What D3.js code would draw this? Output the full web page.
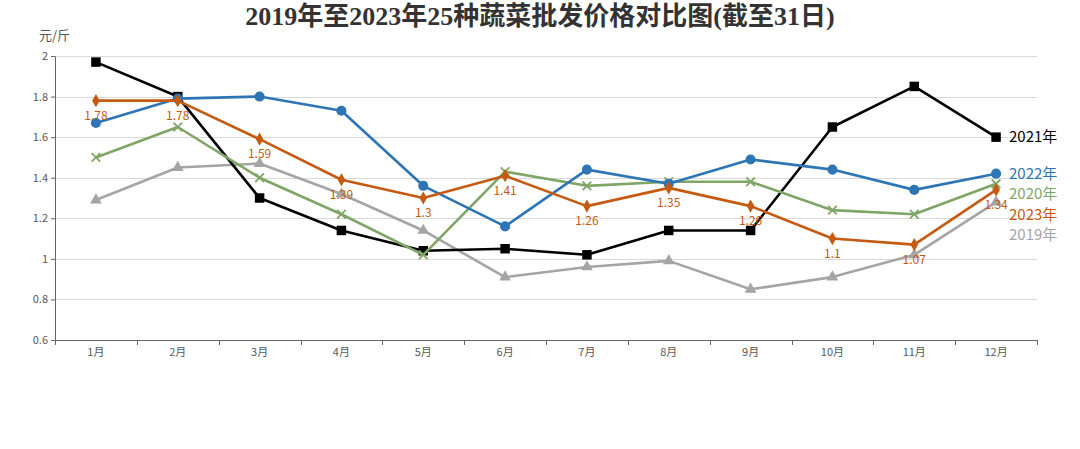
<!DOCTYPE html>
<html>
<head>
<meta charset="utf-8">
<script src="https://cdn.jsdelivr.net/npm/d3@7"></script>
<style>
    body { margin: 0; background: #fff; }
    svg { display: block; font-family: "Noto Sans CJK SC", "Noto Sans", sans-serif; }
</style>
</head>
<body>
<div class="svg-wrapper"></div>
<script>
const months = ["1月", "2月", "3月", "4月", "5月", "6月", "7月", "8月", "9月", "10月", "11月", "12月"]
const yTicks = [0.6, 0.8, 1, 1.2, 1.4, 1.6, 1.8, 2]

const y2019 = [1.29, 1.45, 1.47, 1.32, 1.14, 0.91, 0.96, 0.99, 0.85, 0.91, 1.02, 1.28]
const y2020 = [1.50, 1.65, 1.40, 1.22, 1.02, 1.43, 1.36, 1.38, 1.38, 1.24, 1.22, 1.37]
const y2021 = [1.97, 1.80, 1.30, 1.14, 1.04, 1.05, 1.02, 1.14, 1.14, 1.65, 1.85, 1.60]
const y2022 = [1.67, 1.79, 1.80, 1.73, 1.36, 1.16, 1.44, 1.37, 1.49, 1.44, 1.34, 1.42]
const y2023 = [1.78, 1.78, 1.59, 1.39, 1.30, 1.41, 1.26, 1.35, 1.26, 1.10, 1.07, 1.34]

// draw order: later ones on top
const series = [
    {name: "2019年", values: y2019, color: "#a5a5a5", symbol: d3.symbolTriangle, size: 60},
    {name: "2021年", values: y2021, color: "#000000", symbol: d3.symbolSquare, size: 90},
    {name: "2020年", values: y2020, color: "#7fa667", symbol: d3.symbolX, size: 50, stroke: true},
    {name: "2022年", values: y2022, color: "#2e75b6", symbol: d3.symbolCircle, size: 80},
    {name: "2023年", values: y2023, color: "#c55a11", symbol: d3.symbolDiamond, size: 50, labels: true}
]
const legendOrder = ["2021年", "2022年", "2020年", "2023年", "2019年"]

const width = 1080, height = 449
const margin = {top: 56, right: 43, bottom: 109, left: 55}

const svg = d3.select(".svg-wrapper").append("svg")
    .attr("width", width)
    .attr("height", height)

const x = d3.scaleBand().domain(months).range([margin.left, width - margin.right])
const y = d3.scaleLinear().domain([0.6, 2]).range([height - margin.bottom, margin.top])

// title
svg.append("text")
    .attr("x", 540)
    .attr("y", 25)
    .attr("text-anchor", "middle")
    .style("font-family", '"Liberation Serif", "Noto Sans CJK SC", serif')
    .style("font-weight", "bold")
    .style("font-size", "26px")
    .attr("fill", "#333")
    .text("2019年至2023年25种蔬菜批发价格对比图(截至31日)")

svg.append("text")
    .attr("x", 39)
    .attr("y", 40)
    .style("font-size", "13px")
    .attr("fill", "#555")
    .text("元/斤")

// gridlines
svg.append("g").selectAll("line")
    .data(yTicks.filter(d => d > 0.6))
    .enter()
    .append("line")
    .attr("x1", margin.left)
    .attr("x2", width - margin.right)
    .attr("y1", d => Math.round(y(d)) + 0.5)
    .attr("y2", d => Math.round(y(d)) + 0.5)
    .attr("stroke", "#d9d9d9")
    .attr("stroke-width", 1)

// y axis
const yAxis = svg.append("g")
    .attr("transform", `translate(${margin.left},0)`)
    .call(d3.axisLeft(y).tickValues(yTicks).tickSize(4).tickSizeOuter(0).tickFormat(d => String(+d.toFixed(1))))
yAxis.select(".domain").attr("stroke", "#666")
yAxis.selectAll(".tick line").attr("stroke", "#666")
yAxis.selectAll("text").attr("fill", "#595959").style("font-size", "11px")
    .style("font-family", '"Noto Sans CJK SC", sans-serif')

// x axis
const xAxis = svg.append("g")
    .attr("transform", `translate(0,${height - margin.bottom})`)
    .call(d3.axisBottom(x).tickSize(0).tickSizeOuter(0).tickPadding(8))
xAxis.select(".domain").attr("stroke", "#666")
xAxis.selectAll("text").attr("fill", "#595959").style("font-size", "11px")
    .style("font-family", '"Noto Sans CJK SC", sans-serif')

const bounds = months.map(m => x(m)).concat([x.range()[1]])
xAxis.selectAll(".bound")
    .data(bounds)
    .enter()
    .append("line")
    .attr("class", "bound")
    .attr("x1", d => Math.round(d) + 0.5)
    .attr("x2", d => Math.round(d) + 0.5)
    .attr("y1", 0)
    .attr("y2", 5)
    .attr("stroke", "#666")

const cx = m => x(m) + x.bandwidth() / 2
const line = d3.line().x((d, i) => cx(months[i])).y(d => y(d))

series.forEach(s => {
    const g = svg.append("g")
    g.append("path")
        .attr("d", line(s.values))
        .attr("fill", "none")
        .attr("stroke", s.color)
        .attr("stroke-width", 2.6)
        .attr("stroke-linejoin", "round")

    g.selectAll(".pt")
        .data(s.values)
        .enter()
        .append("path")
        .attr("class", "pt")
        .attr("transform", (d, i) => `translate(${cx(months[i])},${y(d)})`)
        .attr("d", d3.symbol().type(s.symbol).size(s.size))
        .attr("fill", s.stroke ? "none" : s.color)
        .attr("stroke", s.stroke ? s.color : "none")
        .attr("stroke-width", 1.8)
})

// data labels for 2023
const s23 = series.find(s => s.labels)
svg.append("g").selectAll("text")
    .data(s23.values)
    .enter()
    .append("text")
    .attr("x", (d, i) => cx(months[i]))
    .attr("y", d => y(d) + 19)
    .attr("text-anchor", "middle")
    .style("font-size", "12px")
    .attr("fill", "#c55a11")
    .text(d => String(+d.toFixed(2)))

// end labels, pushed apart
let prev = -Infinity
legendOrder.map(n => series.find(s => s.name === n)).forEach(s => {
    let ly = Math.max(y(s.values[s.values.length - 1]), prev + 20.5)
    prev = ly
    svg.append("text")
        .attr("x", 1009)
        .attr("y", ly)
        .attr("dy", "0.35em")
        .style("font-size", "15px")
        .attr("fill", s.color)
        .text(s.name)
})
</script>
</body>
</html>
